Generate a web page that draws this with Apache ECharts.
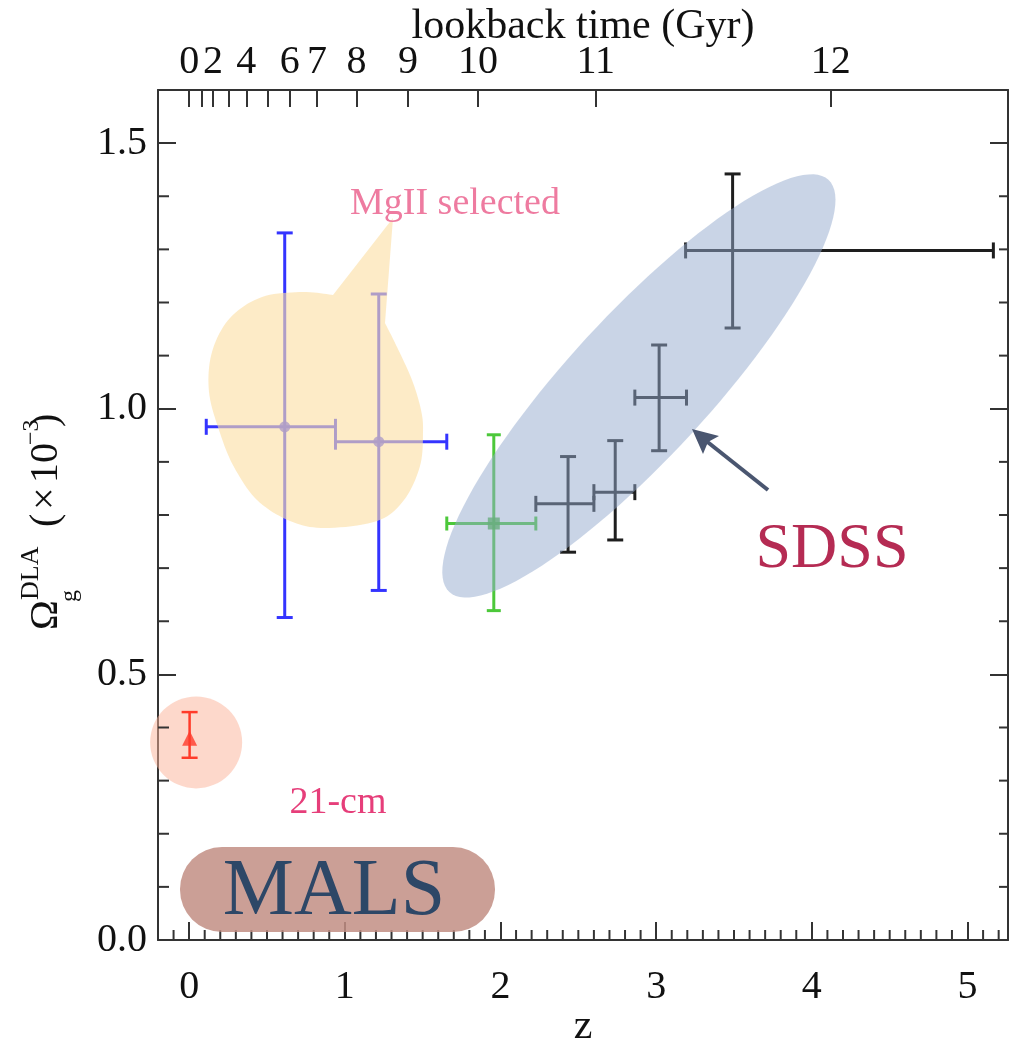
<!DOCTYPE html>
<html><head><meta charset="utf-8">
<script src="https://cdn.jsdelivr.net/npm/echarts@6/dist/echarts.min.js"></script>
<style>html,body{margin:0;padding:0;background:#fff}#c{width:1015px;height:1043px}</style>
</head><body><div id="c"></div>
<script>
// ---------------- data ----------------
const zRange = [-0.2, 5.26];
const omegaRange = [0, 1.6];
const zTicks = [0, 1, 2, 3, 4, 5];
const yTicks = [0, 0.5, 1.0, 1.5];
const lookbackGyr = [0, 1, 2, 3, 4, 5, 6, 7, 8, 9, 10, 11, 12];
const lookbackZ = [0, 0.078, 0.153, 0.256, 0.367, 0.506, 0.646, 0.822, 1.075, 1.406, 1.856, 2.612, 4.122];
const lookbackShown = [0, 2, 4, 6, 7, 8, 9, 10, 11, 12];

// each point: [z, Omega, zLow, zHigh, OmegaLow, OmegaHigh]
const malsPoints = [[0.003, 0.380, 0.003, 0.003, 0.343, 0.429]];
const mgiiPoints = [[0.614, 0.966, 0.11, 0.94, 0.607, 1.331],
                    [1.218, 0.938, 0.94, 1.655, 0.658, 1.216]];
const greenPoints = [[1.957, 0.784, 1.655, 2.227, 0.620, 0.951]];
const sdssPoints = [[2.434, 0.821, 2.227, 2.600, 0.730, 0.910],
                    [2.737, 0.843, 2.600, 2.863, 0.753, 0.940],
                    [3.019, 1.021, 2.863, 3.195, 0.921, 1.120],
                    [3.491, 1.298, 3.189, 5.166, 1.152, 1.442]];

// ---------------- setup ----------------
const FONT = 'Liberation Serif';
const chart = echarts.init(document.getElementById('c'));

function steps(lo, hi, step, skip) {
  const out = [];
  for (let k = Math.round(lo / step); k * step <= hi + 1e-9; k++) {
    const v = Math.round(k * step * 1000) / 1000;
    if (Math.abs(v / skip - Math.round(v / skip)) > 1e-6) out.push(v);
  }
  return out;
}
const xMinor = steps(-0.1, 5.2, 0.1, 1);
const yMinor = steps(0.1, 1.55, 0.1, 0.5);
const shownZ = lookbackShown.map(g => lookbackZ[lookbackGyr.indexOf(g)]);

const lineCol = '#333';
const axLine = {show: true, onZero: false, lineStyle: {color: lineCol, width: 2}};
const tickStyle = {color: lineCol, width: 2};
const xBase = {type: 'value', min: zRange[0], max: zRange[1], splitLine: {show: false}};
const yBase = {type: 'value', min: omegaRange[0], max: omegaRange[1], splitLine: {show: false}};
const labelStyle = {fontFamily: FONT, fontSize: 40, color: '#111'};

function errRender(color, width, cap) {
  return function (params, api) {
    const z = api.value(0), y = api.value(1);
    const zlo = api.value(2), zhi = api.value(3), ylo = api.value(4), yhi = api.value(5);
    const c = api.coord([z, y]);
    const st = {stroke: color, lineWidth: width};
    const ch = [];
    const a = api.coord([z, ylo]), b = api.coord([z, yhi]);
    ch.push({type: 'line', shape: {x1: c[0], y1: a[1], x2: c[0], y2: b[1]}, style: st});
    ch.push({type: 'line', shape: {x1: c[0] - cap, y1: a[1], x2: c[0] + cap, y2: a[1]}, style: st});
    ch.push({type: 'line', shape: {x1: c[0] - cap, y1: b[1], x2: c[0] + cap, y2: b[1]}, style: st});
    if (zhi > zlo) {
      const l = api.coord([zlo, y]), r = api.coord([zhi, y]);
      ch.push({type: 'line', shape: {x1: l[0], y1: c[1], x2: r[0], y2: c[1]}, style: st});
      ch.push({type: 'line', shape: {x1: l[0], y1: c[1] - cap, x2: l[0], y2: c[1] + cap}, style: st});
      ch.push({type: 'line', shape: {x1: r[0], y1: c[1] - cap, x2: r[0], y2: c[1] + cap}, style: st});
    }
    return {type: 'group', children: ch};
  };
}
const enc = {x: [0, 2, 3], y: [1, 4, 5]};

chart.setOption({
  animation: false,
  backgroundColor: '#fff',
  grid: {left: 158, right: 7, top: 90, bottom: 103, containLabel: false, outerBoundsMode: 'none'},
  xAxis: [
    Object.assign({}, xBase, {
      position: 'bottom', axisLine: axLine,
      axisTick: {show: true, inside: true, length: 18, customValues: zTicks, lineStyle: tickStyle},
      axisLabel: Object.assign({customValues: zTicks, margin: 27}, labelStyle),
      name: 'z', nameLocation: 'middle', nameGap: 66, nameMoveOverlap: false,
      nameTextStyle: {fontFamily: FONT, fontSize: 42, color: '#111'}
    }),
    Object.assign({}, xBase, {
      position: 'top', axisLine: axLine,
      axisTick: {show: true, inside: true, length: 17, customValues: lookbackZ, lineStyle: tickStyle},
      axisLabel: Object.assign({
        customValues: shownZ, margin: 8,
        formatter: function (v) {
          for (let i = 0; i < lookbackZ.length; i++) if (Math.abs(lookbackZ[i] - v) < 1e-6) return String(lookbackGyr[i]);
          return '';
        }
      }, labelStyle),
      name: 'lookback time (Gyr)', nameLocation: 'middle', nameGap: 42, nameMoveOverlap: false,
      nameTextStyle: {fontFamily: FONT, fontSize: 42, color: '#111'}
    })
  ],
  yAxis: [
    Object.assign({}, yBase, {
      position: 'left', axisLine: axLine,
      axisTick: {show: true, inside: true, length: 18, customValues: yTicks, lineStyle: tickStyle},
      axisLabel: Object.assign({customValues: yTicks, margin: 11, formatter: v => v.toFixed(1)}, labelStyle)
    }),
    Object.assign({}, yBase, {
      position: 'right', axisLine: axLine,
      axisTick: {show: true, inside: true, length: 18, customValues: yTicks, lineStyle: tickStyle},
      axisLabel: {show: false}
    })
  ],
  series: [
    {type: 'custom', name: 'MALS', renderItem: errRender('#ff3b2a', 2.5, 8), data: malsPoints, encode: enc, z: 3},
    {type: 'scatter', data: malsPoints.map(p => [p[0], p[1]]), symbol: 'triangle', symbolSize: 15,
     itemStyle: {color: '#ff3b2a'}, z: 4},
    {type: 'custom', name: 'MgII', renderItem: errRender('#3434ff', 3, 8), data: mgiiPoints, encode: enc, z: 3},
    {type: 'scatter', data: mgiiPoints.map(p => [p[0], p[1]]), symbol: 'circle', symbolSize: 11,
     itemStyle: {color: '#3434ff'}, z: 4},
    {type: 'custom', name: 'green', renderItem: errRender('#4cc83a', 3, 7), data: greenPoints, encode: enc, z: 3},
    {type: 'scatter', data: greenPoints.map(p => [p[0], p[1]]), symbol: 'rect', symbolSize: 12,
     itemStyle: {color: '#3fb02e'}, z: 4},
    {type: 'custom', name: 'SDSS', renderItem: errRender('#1e1e1e', 3, 8), data: sdssPoints, encode: enc, z: 3}
  ]
});

// ---------------- annotations ----------------
const px = (z, y) => chart.convertToPixel({seriesIndex: 0}, [z, y]);

// minor ticks (positions through the axis scales)
const minorTicks = [];
xMinor.forEach(v => {
  const p = px(v, omegaRange[0]);
  minorTicks.push({type: 'line', z: 5, silent: true, shape: {x1: p[0], y1: p[1], x2: p[0], y2: p[1] - 10},
    style: {stroke: lineCol, lineWidth: 2}});
});
yMinor.forEach(v => {
  const l = px(zRange[0], v), r = px(zRange[1], v);
  minorTicks.push({type: 'line', z: 5, silent: true, shape: {x1: l[0], y1: l[1], x2: l[0] + 11, y2: l[1]},
    style: {stroke: lineCol, lineWidth: 2}});
  minorTicks.push({type: 'line', z: 5, silent: true, shape: {x1: r[0], y1: r[1], x2: r[0] - 9, y2: r[1]},
    style: {stroke: lineCol, lineWidth: 2}});
});

function catmull(pts, n) {
  const out = [];
  for (let i = 0; i < pts.length - 1; i++) {
    const p0 = pts[Math.max(i - 1, 0)], p1 = pts[i], p2 = pts[i + 1], p3 = pts[Math.min(i + 2, pts.length - 1)];
    for (let k = 0; k < n; k++) {
      const t = k / n, t2 = t * t, t3 = t2 * t;
      const f = (a, b, c, d) => 0.5 * (2 * b + (-a + c) * t + (2 * a - 5 * b + 4 * c - d) * t2 + (-a + 3 * b - 3 * c + d) * t3);
      out.push([f(p0[0], p1[0], p2[0], p3[0]), f(p0[1], p1[1], p2[1], p3[1])]);
    }
  }
  out.push(pts[pts.length - 1]);
  return out;
}

// speech-bubble blob (pixel outline of the highlight)
const blobChain = [[385, 323], [397, 347], [412, 380], [421, 410], [423, 432], [420, 466], [404, 500], [377, 521],
  [325, 528], [290, 521], [257, 500], [234, 467], [220, 433], [209, 392], [212, 352], [230, 318], [262, 297],
  [303, 292], [333, 295]];
const blobPts = catmull(blobChain, 10);
blobPts.push([393, 218]);

// SDSS ellipse
const ellC = px(2.889, 1.043);
const ellA = 280, ellB = 71, phi = 47.4 * Math.PI / 180;
const ux = Math.cos(phi), uy = -Math.sin(phi), vx = Math.sin(phi), vy = Math.cos(phi);
const ellPts = [];
for (let i = 0; i < 120; i++) {
  const t = i / 120 * 2 * Math.PI;
  ellPts.push([ellC[0] + ellA * Math.cos(t) * ux + ellB * Math.sin(t) * vx,
               ellC[1] + ellA * Math.cos(t) * uy + ellB * Math.sin(t) * vy]);
}

const redC = px(0.045, 0.372);

function txt(text, x, y, size, color, extra) {
  return Object.assign({type: 'text', x: x, y: y, z: 30,
    style: {text: text, fontFamily: FONT, fontSize: size, fill: color, textAlign: 'center', textVerticalAlign: 'middle'}}, extra || {});
}
function ytxt(text, lx, ly, size) {
  return {type: 'text', x: lx, y: ly,
    style: {text: text, fontFamily: FONT, fontSize: size, fill: '#111', textAlign: 'left', textVerticalAlign: 'middle'}};
}

chart.setOption({
  graphic: minorTicks.concat([
    {type: 'circle', z: 1, shape: {cx: redC[0], cy: redC[1], r: 46}, style: {fill: 'rgba(252,178,152,0.5)'}},
    {type: 'polygon', z: 10, shape: {points: blobPts}, style: {fill: 'rgba(252,222,165,0.62)'}},
    {type: 'polygon', z: 10, shape: {points: ellPts}, style: {fill: 'rgba(148,170,206,0.5)'}},
    {type: 'line', z: 12, shape: {x1: 768, y1: 490, x2: 705, y2: 440}, style: {stroke: '#4a5670', lineWidth: 4}},
    {type: 'polygon', z: 12, shape: {points: [[692, 429], [703, 454], [708, 442], [719, 436]]}, style: {fill: '#4a5670'}},
    {type: 'rect', z: 12, shape: {x: 180, y: 847, width: 315, height: 85, r: 42}, style: {fill: 'rgba(194,142,132,0.85)'}},
    txt('MgII selected', 455, 204, 38, '#ee7ba0'),
    txt('21-cm', 338, 803, 38, '#e63e7a'),
    txt('SDSS', 832, 550, 64, '#b52b53'),
    txt('MALS', 334, 893, 80, '#2d4767'),
    {type: 'group', x: 46, y: 632, rotation: Math.PI / 2, z: 30, children: [
      ytxt('Ω', 2, 0, 40),
      ytxt('DLA', 32, -15, 26),
      ytxt('g', 30, 24, 24),
      ytxt('(', 105, 0, 40),
      ytxt('×', 122, 0, 40),
      ytxt('10', 149, 0, 40),
      ytxt('−3', 187, -14, 24),
      ytxt(')', 205, 0, 40)
    ]}
  ])
});
</script>
</body></html>
